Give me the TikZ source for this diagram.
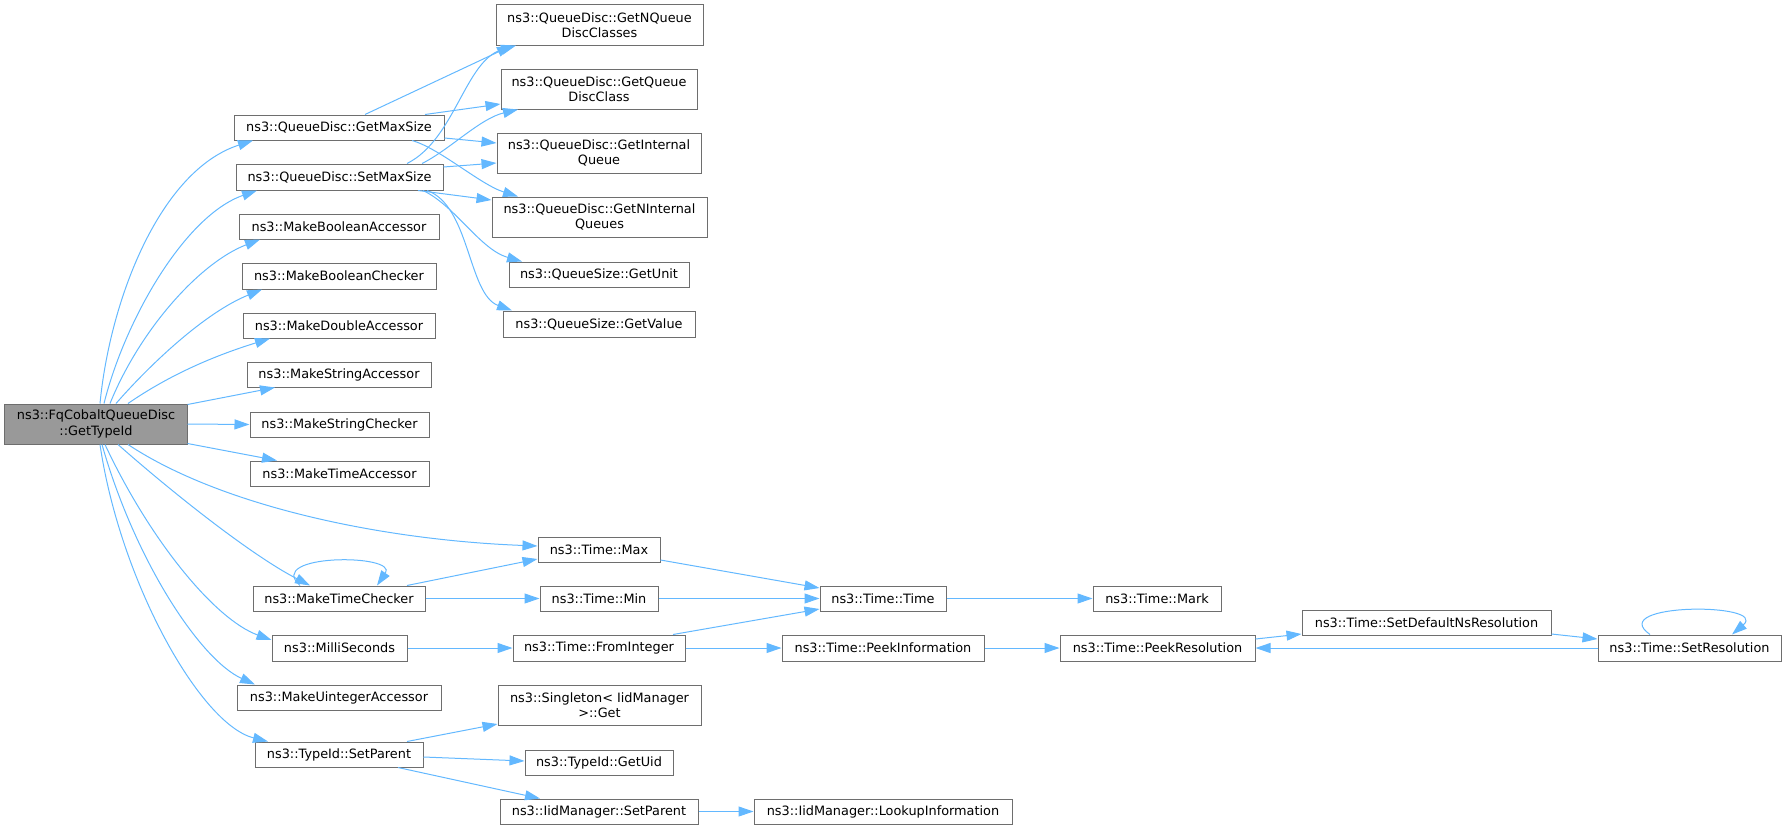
\documentclass[tikz,border=0pt]{standalone}
\usepackage{fontspec}
\setmainfont{DejaVu Sans}
\usetikzlibrary{arrows.meta,calc}
\definecolor{edgeblue}{HTML}{63B8FF}
\definecolor{boxgray}{HTML}{6E6E6E}
\definecolor{rootfill}{HTML}{999999}
\begin{document}
\begin{tikzpicture}[x=1bp,y=-1bp,
  box/.style={draw=boxgray, line width=1bp, fill=white, rectangle, inner sep=0pt, align=center, font=\fontsize{12.9}{15.3}\selectfont},
  edge/.style={draw=edgeblue, line width=1bp, -{Triangle[length=15bp,width=10bp]}}]
\useasboundingbox (0,0) rectangle (1787,830);
% nodes
\node[box,fill=rootfill,minimum width=182bp,minimum height=40bp] (R) at (96,424) {ns3::FqCobaltQueueDisc\\::GetTypeId};
\node[box,minimum width=210bp,minimum height=25bp] (gms) at (339,127.5) {ns3::QueueDisc::GetMaxSize};
\node[box,minimum width=207bp,minimum height=26bp] (sms) at (339.5,177) {ns3::QueueDisc::SetMaxSize};
\node[box,minimum width=200bp,minimum height=25bp] (mba) at (339,226.5) {ns3::MakeBooleanAccessor};
\node[box,minimum width=194bp,minimum height=26bp] (mbc) at (339,276) {ns3::MakeBooleanChecker};
\node[box,minimum width=192bp,minimum height=25bp] (mda) at (339,325.5) {ns3::MakeDoubleAccessor};
\node[box,minimum width=184bp,minimum height=25bp] (msa) at (339,374.5) {ns3::MakeStringAccessor};
\node[box,minimum width=179bp,minimum height=25bp] (msc) at (339.5,424.5) {ns3::MakeStringChecker};
\node[box,minimum width=179bp,minimum height=25bp] (mta) at (339.5,473.5) {ns3::MakeTimeAccessor};
\node[box,minimum width=172bp,minimum height=25bp] (mtc) at (339,598.5) {ns3::MakeTimeChecker};
\node[box,minimum width=135bp,minimum height=26bp] (ms) at (339.5,648) {ns3::MilliSeconds};
\node[box,minimum width=204bp,minimum height=25bp] (mua) at (339,697.5) {ns3::MakeUintegerAccessor};
\node[box,minimum width=168bp,minimum height=25bp] (tsp) at (339,754.5) {ns3::TypeId::SetParent};
\node[box,minimum width=207bp,minimum height=40bp] (gnqdc) at (599.5,25) {ns3::QueueDisc::GetNQueue\\DiscClasses};
\node[box,minimum width=196bp,minimum height=40bp] (gqdc) at (599,89) {ns3::QueueDisc::GetQueue\\DiscClass};
\node[box,minimum width=204bp,minimum height=40bp] (giq) at (599,153) {ns3::QueueDisc::GetInternal\\Queue};
\node[box,minimum width=215bp,minimum height=40bp] (gniq) at (599.5,217) {ns3::QueueDisc::GetNInternal\\Queues};
\node[box,minimum width=180bp,minimum height=25bp] (gu) at (599,274.5) {ns3::QueueSize::GetUnit};
\node[box,minimum width=192bp,minimum height=26bp] (gv) at (599,324) {ns3::QueueSize::GetValue};
\node[box,minimum width=122bp,minimum height=25bp] (tmax) at (599,549.5) {ns3::Time::Max};
\node[box,minimum width=118bp,minimum height=25bp] (tmin) at (599,598.5) {ns3::Time::Min};
\node[box,minimum width=172bp,minimum height=26bp] (tfi) at (599,648) {ns3::Time::FromInteger};
\node[box,minimum width=203bp,minimum height=40bp] (sing) at (599.5,705) {ns3::Singleton< IidManager\\>::Get};
\node[box,minimum width=148bp,minimum height=25bp] (guid) at (599,762.5) {ns3::TypeId::GetUid};
\node[box,minimum width=198bp,minimum height=25bp] (isp) at (599,811.5) {ns3::IidManager::SetParent};
\node[box,minimum width=126bp,minimum height=25bp] (tt) at (883,598.5) {ns3::Time::Time};
\node[box,minimum width=202bp,minimum height=26bp] (tpi) at (883,648) {ns3::Time::PeekInformation};
\node[box,minimum width=258bp,minimum height=25bp] (tli) at (883,811.5) {ns3::IidManager::LookupInformation};
\node[box,minimum width=128bp,minimum height=25bp] (tmark) at (1157,598.5) {ns3::Time::Mark};
\node[box,minimum width=195bp,minimum height=26bp] (tpr) at (1157.5,648) {ns3::Time::PeekResolution};
\node[box,minimum width=249bp,minimum height=25bp] (tsdn) at (1426.5,622.5) {ns3::Time::SetDefaultNsResolution};
\node[box,minimum width=183bp,minimum height=26bp] (tsr) at (1689.5,648) {ns3::Time::SetResolution};
% edges from root
\draw[edge] ($(R.north)+(4,0)$) .. controls ($(R.north)+(14,-104)$) and ($(gms.south)+(-179,30)$) .. ($(gms.south)+(-86,0)$);
\draw[edge] ($(R.north)+(8,0)$) .. controls ($(R.north)+(29,-84)$) and ($(sms.south)+(-154.5,25)$) .. ($(sms.south)+(-82.5,0)$);
\draw[edge] ($(R.north)+(14,0)$) .. controls ($(R.north)+(44,-74)$) and ($(mba.south)+(-139,23)$) .. ($(mba.south)+(-79,0)$);
\draw[edge] ($(R.north)+(20,0)$) .. controls ($(R.north)+(54,-39)$) and ($(mbc.south)+(-134,23)$) .. ($(mbc.south)+(-77,0)$);
\draw[edge] ($(R.north)+(32,0)$) .. controls ($(R.north)+(74,-29)$) and ($(mda.south)+(-124,17)$) .. ($(mda.south)+(-69,0)$);
\draw[edge] ($(R.north east)+(0,1)$) -- ($(msa.south)+(-64,0)$);
\draw[edge] (R.east) -- (msc.west);
\draw[edge] ($(R.south east)+(0,-1)$) -- ($(mta.north)+(-62.5,0)$);
\draw[edge] ($(R.south)+(32,0)$) .. controls ($(R.south)+(124,61)$) and ($(tmax.west)+(-158,-9.5)$) .. ($(tmax.west)+(0,-3.5)$);
\draw[edge] ($(R.south)+(22,0)$) .. controls ($(R.south)+(74,46)$) and ($(mtc.north)+(-89,-31)$) .. ($(mtc.north)+(-29,0)$);
\draw[edge] ($(R.south)+(9,0)$) .. controls ($(R.south)+(54,96)$) and ($(ms.north)+(-124.5,-15)$) .. ($(ms.west)+(0,-8)$);
\draw[edge] ($(R.south)+(6,0)$) .. controls ($(R.south)+(39,116)$) and ($(mua.north)+(-139,-25)$) .. ($(mua.north)+(-84,0)$);
\draw[edge] ($(R.south)+(4,0)$) .. controls ($(R.south)+(24,136)$) and ($(tsp.north)+(-139,-17)$) .. ($(tsp.north)+(-71,0)$);
% queue disc group
\draw[edge] ($(gms.north)+(26,0)$) -- ($(gnqdc.south)+(-87.5,0)$);
\draw[edge] ($(sms.north)+(67.5,0)$) .. controls ($(sms.north)+(115.5,-24)$) and ($(gnqdc.south)+(-134.5,15)$) .. ($(gnqdc.south)+(-83.5,0)$);
\draw[edge] ($(gms.north)+(86,0)$) -- ($(gqdc.west)+(0,15)$);
\draw[edge] ($(sms.north)+(82.5,0)$) .. controls ($(sms.north)+(110.5,-14)$) and ($(gqdc.south)+(-119,9)$) .. ($(gqdc.south)+(-81,0)$);
\draw[edge] ($(gms.east)+(0,10.5)$) -- ($(giq.west)+(0,-10)$);
\draw[edge] ($(sms.east)+(0,-10)$) -- ($(giq.west)+(0,10)$);
\draw[edge] ($(gms.south)+(73,0)$) .. controls ($(gms.south)+(101,8)$) and ($(gniq.north)+(-119.5,-12)$) .. ($(gniq.north)+(-81.5,0)$);
\draw[edge] ($(sms.south)+(78.5,0)$) -- ($(gniq.west)+(0,-17)$);
\draw[edge] ($(sms.south)+(83.5,0)$) .. controls ($(sms.south)+(115.5,15)$) and ($(gu.north)+(-119,-12)$) .. ($(gu.north)+(-77,0)$);
\draw[edge] ($(sms.south)+(87.5,0)$) .. controls ($(sms.south)+(130.5,15)$) and ($(gv.north)+(-131,-16)$) .. ($(gv.north)+(-87,0)$);
% time group
\draw[edge] ($(mtc.north)+(-39,0)$) .. controls ($(mtc.north)+(-75,-32)$) and ($(mtc.north)+(60,-32)$) .. ($(mtc.north)+(38,0)$);
\draw[edge] ($(mtc.north)+(68,0)$) -- ($(tmax.west)+(0,9.5)$);
\draw[edge] (mtc.east) -- (tmin.west);
\draw[edge] (ms.east) -- (tfi.west);
\draw[edge] ($(tmax.east)+(0,10.5)$) -- ($(tt.west)+(0,-10.5)$);
\draw[edge] (tmin.east) -- (tt.west);
\draw[edge] ($(tfi.north)+(74,0)$) -- ($(tt.west)+(0,10.5)$);
\draw[edge] (tfi.east) -- (tpi.west);
\draw[edge] (tpi.east) -- (tpr.west);
\draw[edge] (tt.east) -- (tmark.west);
\draw[edge] ($(tpr.east)+(0,-9)$) -- ($(tsdn.west)+(0,11.5)$);
\draw[edge] ($(tsdn.east)+(0,11.5)$) -- ($(tsr.west)+(0,-9)$);
\draw[edge] (tsr.west) -- (tpr.east);
\draw[edge] ($(tsr.north)+(-39.5,0)$) .. controls ($(tsr.north)+(-85,-32)$) and ($(tsr.north)+(80,-32)$) .. ($(tsr.north)+(42.5,0)$);
% typeid group
\draw[edge] ($(tsp.north)+(68,0)$) -- ($(sing.west)+(0,19)$);
\draw[edge] ($(tsp.east)+(0,2.5)$) -- ($(guid.west)+(0,-1.5)$);
\draw[edge] ($(tsp.south)+(59,0)$) -- ($(isp.north)+(-59,0)$);
\draw[edge] (isp.east) -- (tli.west);
\end{tikzpicture}
\end{document}
